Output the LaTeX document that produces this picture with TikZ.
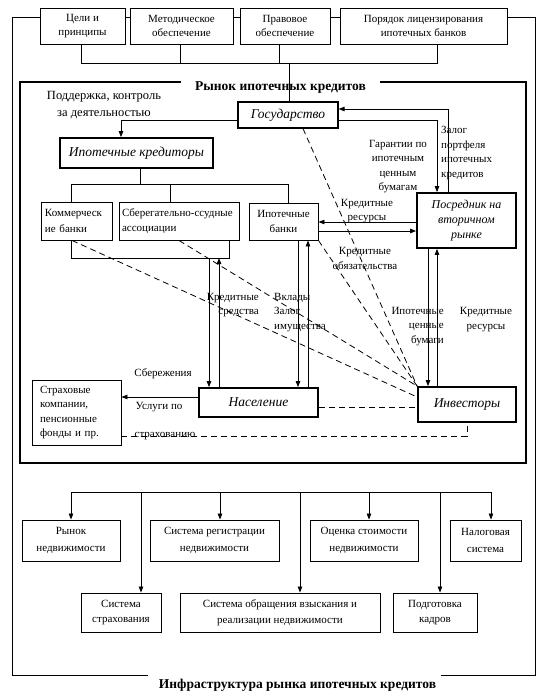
\documentclass[tikz,border=0pt]{standalone}
\usepackage{fontspec}
\setmainfont{Liberation Serif}
\usetikzlibrary{arrows.meta,calc}
\begin{document}
\begin{tikzpicture}[x=1pt,y=-1pt,
  every node/.style={font=\fontsize{11}{13}\selectfont},
  box/.style={draw, line width=0.9pt, fill=white, align=center, inner sep=2pt},
  topbox/.style={box, font=\fontsize{11}{14}\selectfont},
  midbox/.style={box, font=\fontsize{11}{15.5}\selectfont},
  botbox/.style={box, font=\fontsize{11}{17}\selectfont},
  mainbox/.style={draw, line width=1.8pt, fill=white, align=center, inner sep=2pt, font=\fontsize{13.5}{16}\selectfont\itshape},
  lbl/.style={align=center, inner sep=0pt, font=\fontsize{11}{14.5}\selectfont},
  arr/.style={line width=0.8pt, -{Triangle[length=6pt,width=4.5pt]}},
  con/.style={line width=0.8pt},
  dsh/.style={line width=0.8pt, dash pattern=on 6pt off 4pt},
  ttl/.style={font=\bfseries\fontsize{13.5}{16}\selectfont, inner sep=1pt}
]
\useasboundingbox (0,0) rectangle (544,697);
\fill[white] (0,0) rectangle (544,697);

% outer frame
\draw[con] (148,675) -- (12,675) -- (12,17) -- (535,17) -- (535,675) -- (441,675);

% top boxes
\node[topbox, minimum width=85pt, minimum height=36pt] (t1) at (82.5,26) {Цели и\\принципы};
\node[topbox, minimum width=103pt, minimum height=36pt] (t2) at (181.5,26) {Методическое\\обеспечение};
\node[topbox, minimum width=90pt, minimum height=36pt] (t3) at (285,26) {Правовое\\обеспечение};
\node[topbox, minimum width=167pt, minimum height=36pt] (t4) at (423.5,26) {Порядок лицензирования\\ипотечных банков};

% inner frame
\draw[line width=1.8pt] (181,82) -- (20,82) -- (20,463) -- (526,463) -- (526,82) -- (380,82);
\node[ttl] (title1) at (280.5,88) {Рынок ипотечных кредитов};

% main nodes
\node[mainbox, minimum width=100pt, minimum height=26pt, line width=1.2pt] (gos) at (288,115) {Государство};
\node[mainbox, minimum width=153pt, minimum height=30pt] (kred) at (136.5,153) {Ипотечные кредиторы};
\node[midbox, minimum height=38pt, text width=63pt, inner xsep=4pt, align=left] (kb) at (76.5,221) {Коммерческ\\ие банки};
\node[midbox, minimum height=38pt, text width=114pt, inner xsep=3pt, align=left] (sb) at (179,221) {Сберегательно-ссудные\\ассоциации};
\node[midbox, minimum width=69pt, minimum height=37pt] (ib) at (283.5,221.5) {Ипотечные\\банки};
\node[mainbox, minimum width=99pt, minimum height=55pt, font=\fontsize{12}{15}\selectfont\itshape] (pos) at (466.5,220.5) {Посредник на\\вторичном\\рынке};
\node[mainbox, minimum width=119pt, minimum height=29pt] (nas) at (258.5,402.5) {Население};
\node[mainbox, minimum width=98pt, minimum height=35pt] (inv) at (467,404.5) {Инвесторы};
\node[box, minimum height=65pt, text width=73pt, inner xsep=8pt, align=left, font=\fontsize{11}{14.5}\selectfont] (ins) at (76.5,412.5) {Страховые\\компании,\\пенсионные\\фонды и пр.};

% text labels
\node[lbl, font=\fontsize{12.5}{17}\selectfont] (sup) at (104,105.5) {Поддержка, контроль\\за деятельностью};
\node[lbl] (lg) at (398,166.5) {Гарантии по\\ипотечным\\ценным\\бумагам};
\node[lbl, align=left, anchor=west] (lz) at (441,153) {Залог\\портфеля\\ипотечных\\кредитов};
\node[lbl] (lkr) at (367,211) {Кредитные\\ресурсы};
\node[lbl] (lko) at (365,258.5) {Кредитные\\обязательства};
\node[lbl, align=right, anchor=east] (lks) at (259,305) {Кредитные\\средства};
\node[lbl, align=left, anchor=west] (lvz) at (274,312.5) {Вклады\\Залог\\имущества};
\node[lbl, align=right, anchor=east] (lic) at (444,326.5) {Ипотечные\\ценные\\бумаги};
\node[lbl] (lkr2) at (486,319.5) {Кредитные\\ресурсы};
\node[lbl] (lsb) at (163,373.5) {Сбережения};
\node[lbl] (lus) at (159,407.5) {Услуги по};
\node[lbl] (lst) at (165,436.5) {страхованию};

% top bracket
\coordinate (b1) at (81,63);
\coordinate (b2) at (180,63);
\coordinate (b3) at (279,63);
\coordinate (b4) at (437,63);
\coordinate (b5) at (289,63);
\draw[con] (t1.south -| b1) -- (b1) -- (b4) -- (t4.south -| b4);
\draw[con] (t2.south -| b2) -- (b2);
\draw[con] (t3.south -| b3) -- (b3);
\draw[con] (b5) -- (gos.north -| b5);

% support arrow
\coordinate (p1) at (121,120);
\draw[arr] (gos.west |- p1) -- (p1) -- (kred.north -| p1);

% creditors bracket
\coordinate (k0) at (140,184);
\coordinate (k1) at (71,184);
\coordinate (k2) at (170,184);
\coordinate (k3) at (288,184);
\draw[con] (kred.south -| k0) -- (k0);
\draw[con] (kb.north -| k1) -- (k1) -- (k3) -- (ib.north -| k3);
\draw[con] (k2) -- (sb.north -| k2);

% lower bracket
\coordinate (l1) at (71,258);
\coordinate (l2) at (229,258);
\coordinate (l3) at (209,258);
\coordinate (l4) at (219,258);
\draw[con] (kb.south -| l1) -- (l1) -- (l2) -- (sb.south -| l2);
\draw[arr] (l3) -- (nas.north -| l3);
\draw[arr] (nas.north -| l4) -- (l4);

% ib <-> nas
\coordinate (m1) at (298,0);
\coordinate (m2) at (308,0);
\draw[arr] (ib.south -| m1) -- (nas.north -| m1);
\draw[arr] (nas.north -| m2) -- (ib.south -| m2);

% ib <-> pos
\coordinate (r1) at (0,222);
\coordinate (r2) at (0,231);
\draw[arr] (pos.west |- r1) -- (ib.east |- r1);
\draw[arr] (ib.east |- r2) -- (pos.west |- r2);

% gos <-> pos
\coordinate (g1) at (437,120);
\coordinate (g2) at (448,109);
\draw[arr] (gos.east |- g1) -- (g1) -- (pos.north -| g1);
\draw[arr] (pos.north -| g2) -- (g2) -- (gos.east |- g2);

% pos <-> inv
\coordinate (v1) at (428,0);
\coordinate (v2) at (437,0);
\draw[arr] (pos.south -| v1) -- (inv.north -| v1);
\draw[arr] (inv.north -| v2) -- (pos.south -| v2);

% nas -> ins
\coordinate (s1) at (0,397);
\draw[arr] (nas.west |- s1) -- (ins.east |- s1);

% dashed
\coordinate (d1) at (0,407);
\coordinate (d2) at (467,436);
\draw[dsh] (nas.east |- d1) -- (inv.west |- d1);
\draw[dsh] (ins.east |- d2) -- (d2) -- (inv.south);
\draw[dsh] ($(gos.south)+(15,0)$) -- (inv.north west);
\draw[dsh] (ib.south east) -- (inv.north west);
\draw[dsh] ($(kb.south)+(-4.5,0)$) -- ($(inv.west)+(0,-7.5)$);
\draw[dsh] (sb.south) -- (inv.north west);

% infrastructure
\node[botbox, minimum width=98pt, minimum height=41pt] (rn) at (71,540.5) {Рынок\\недвижимости};
\node[botbox, minimum width=129pt, minimum height=41pt] (sr) at (214.5,540.5) {Система регистрации\\недвижимости};
\node[botbox, minimum width=108pt, minimum height=41pt] (os) at (364,540.5) {Оценка стоимости\\недвижимости};
\node[botbox, minimum width=71pt, minimum height=41pt] (ns) at (485.5,540.5) {Налоговая\\система};
\node[botbox, minimum width=80pt, minimum height=39pt, font=\fontsize{11}{15.5}\selectfont] (ss) at (121,612.5) {Система\\страхования};
\node[botbox, minimum width=200pt, minimum height=39pt, font=\fontsize{11}{15.5}\selectfont] (so) at (280,612.5) {Система обращения взыскания и\\реализации недвижимости};
\node[botbox, minimum width=84pt, minimum height=39pt, font=\fontsize{11}{15.5}\selectfont] (pk) at (435,612.5) {Подготовка\\кадров};

\coordinate (h1) at (71,492);
\coordinate (h2) at (141,492);
\coordinate (h3) at (220,492);
\coordinate (h4) at (300,492);
\coordinate (h5) at (369,492);
\coordinate (h6) at (440,492);
\coordinate (h7) at (491,492);
\draw[con] (h1) -- (h7);
\draw[arr] (h1) -- (rn.north -| h1);
\draw[arr] (h2) -- (ss.north -| h2);
\draw[arr] (h3) -- (sr.north -| h3);
\draw[arr] (h4) -- (so.north -| h4);
\draw[arr] (h5) -- (os.north -| h5);
\draw[arr] (h6) -- (pk.north -| h6);
\draw[arr] (h7) -- (ns.north -| h7);

\node[ttl] (title2) at (297.5,685) {Инфраструктура рынка ипотечных кредитов};
\end{tikzpicture}
\end{document}
